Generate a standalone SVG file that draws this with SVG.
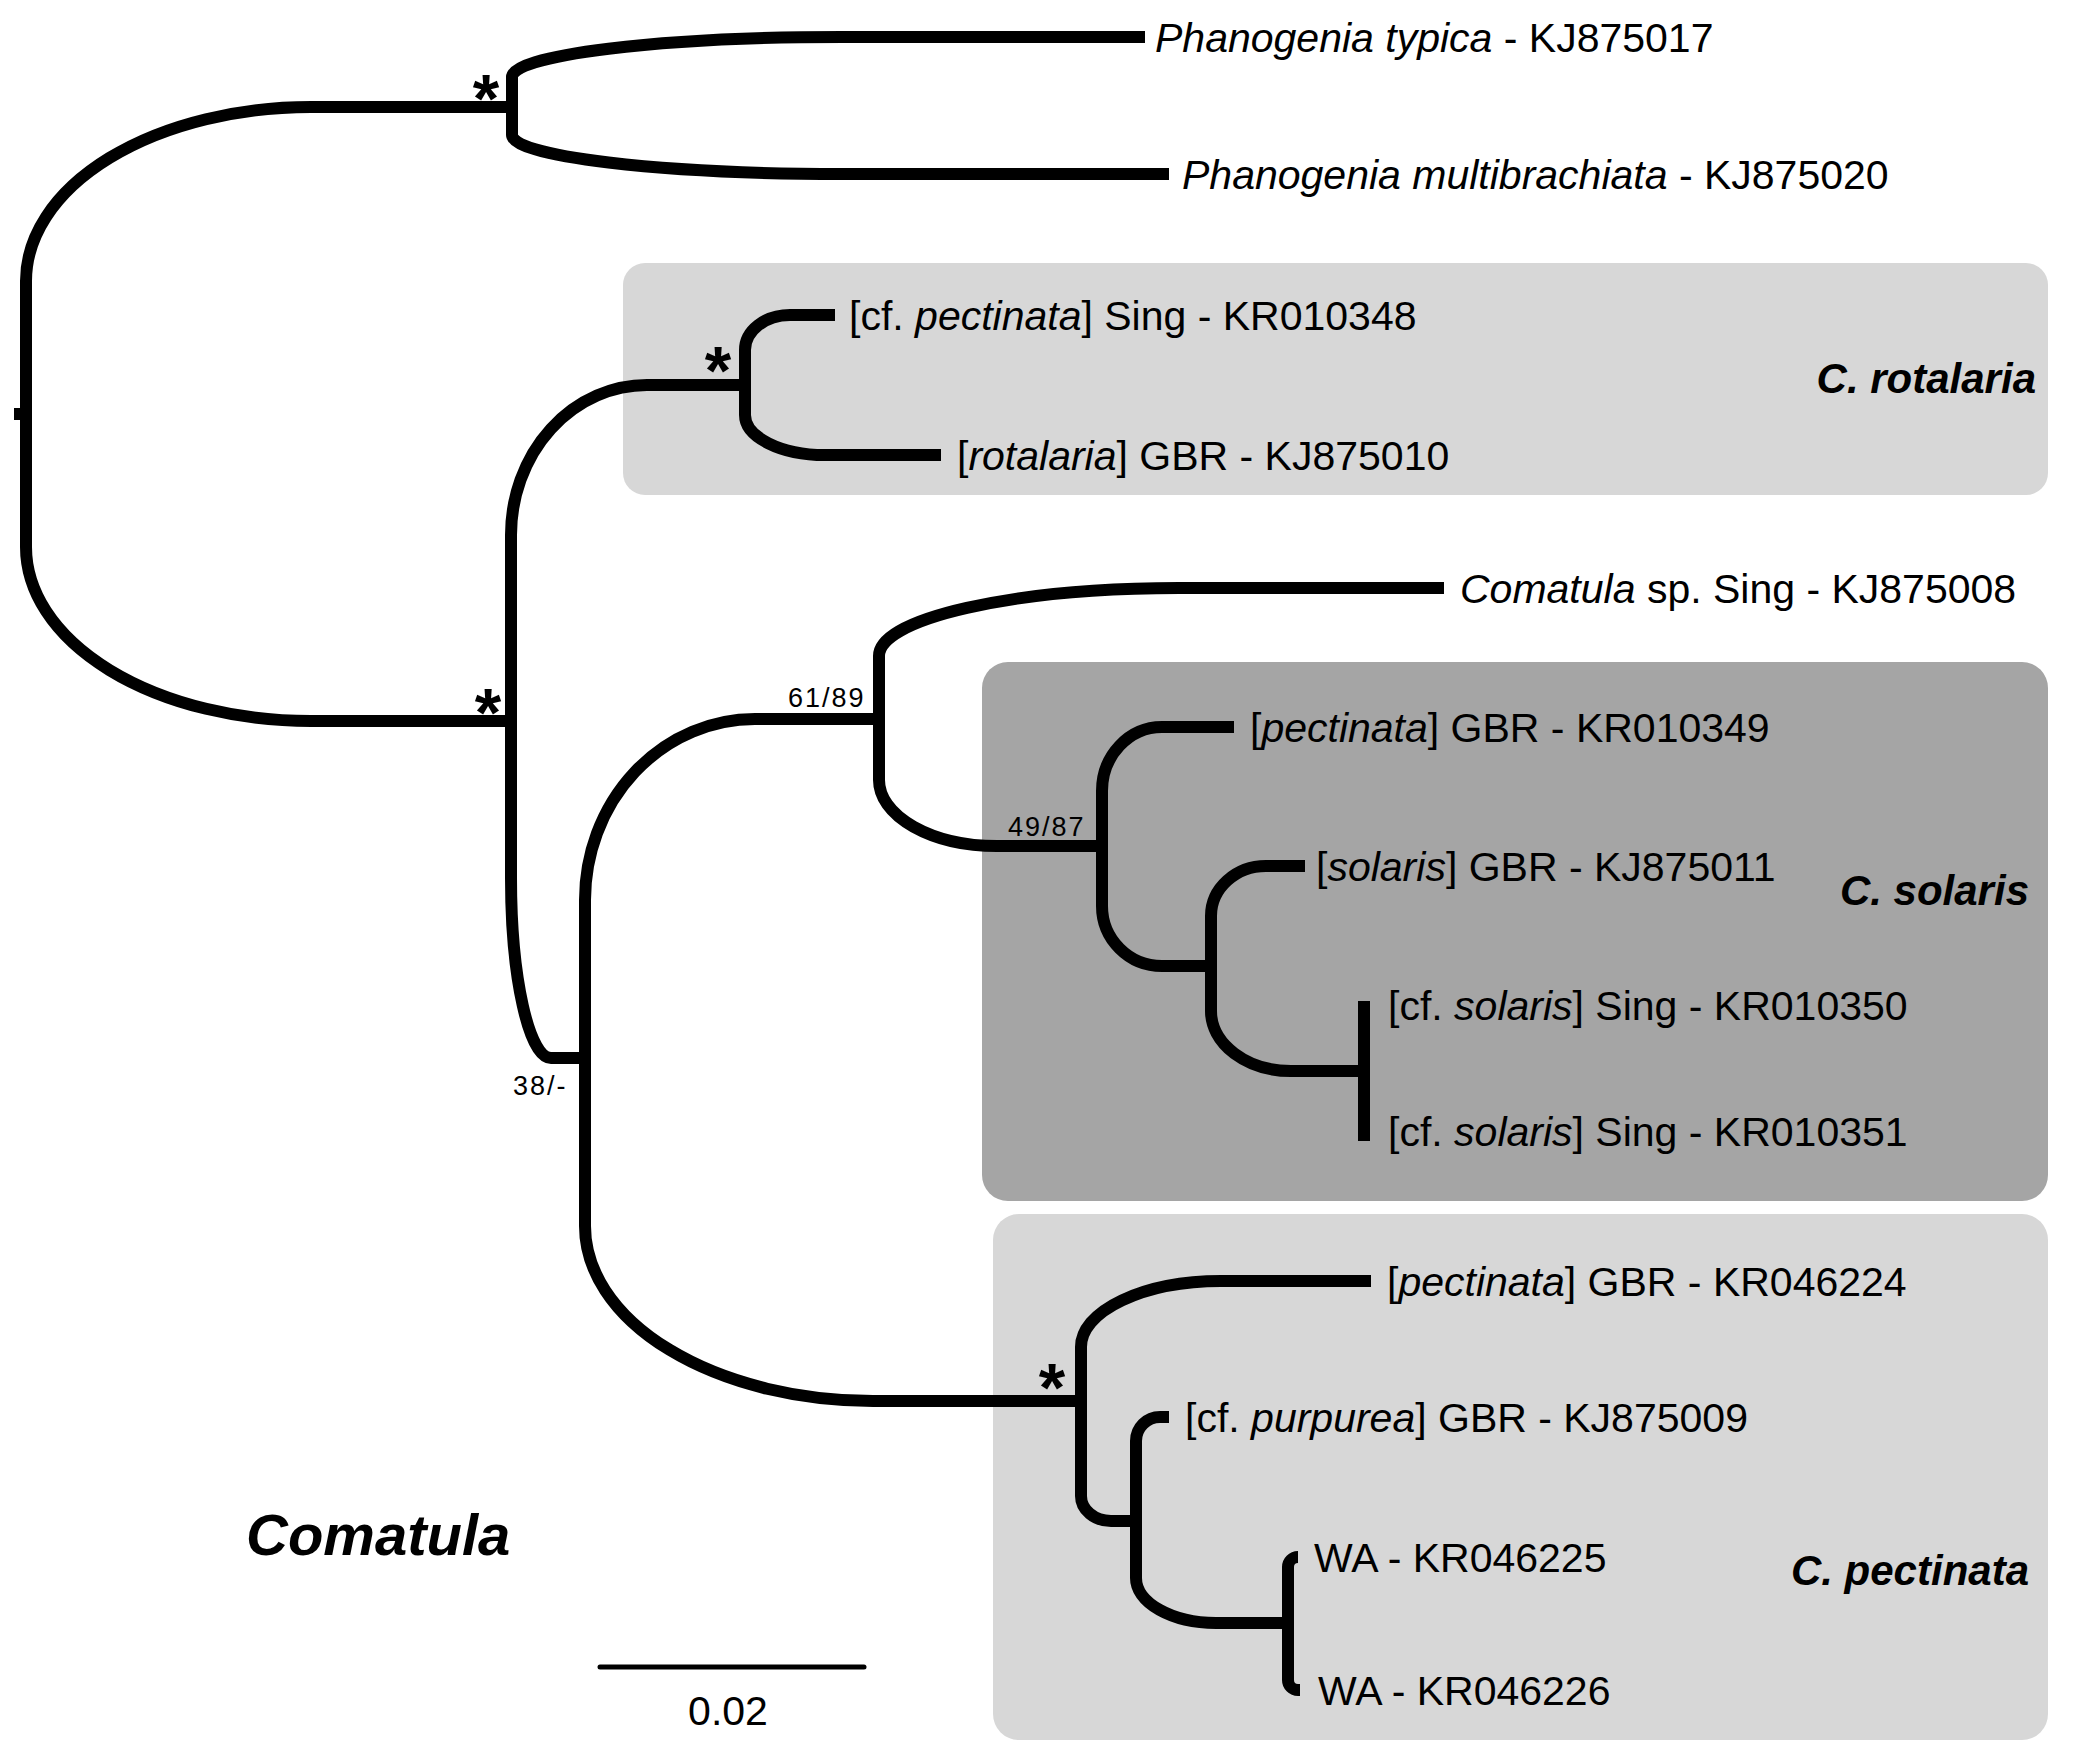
<svg xmlns="http://www.w3.org/2000/svg" width="2092" height="1750" viewBox="0 0 2092 1750">
<style>
.br{fill:none;stroke:#000;stroke-width:12;stroke-linecap:butt;stroke-linejoin:round}
.lab{font-family:"Liberation Sans",Arial,Helvetica,sans-serif;font-size:41px;fill:#000}
.it{font-style:italic}
.clade{font-family:"Liberation Sans",Arial,Helvetica,sans-serif;font-size:42px;font-weight:bold;font-style:italic;fill:#000;text-anchor:end}
.sup{font-family:"Liberation Sans",Arial,Helvetica,sans-serif;font-size:27px;letter-spacing:2px;fill:#000}
.star{font-family:"Liberation Sans",Arial,Helvetica,sans-serif;font-size:68px;font-weight:bold;fill:#000;text-anchor:middle}
.light{fill:#d7d7d7}
.dark{fill:#a5a5a5}
</style>
<rect width="2092" height="1750" fill="#fff"/>
<g id="clade-boxes">
<rect id="box-rotalaria" class="light" x="623" y="263" width="1425" height="232" rx="22"/>
<rect id="box-solaris" class="dark" x="982" y="662" width="1066" height="539" rx="26"/>
<rect id="box-pectinata" class="light" x="993" y="1214" width="1055" height="526" rx="26"/>
</g>
<g id="connectors">
<path class="br" d="M14 414 H26"/>
<path class="br" d="M26 414 V281 A285 174 0 0 1 311 107 H512"/>
<path class="br" d="M26 414 V547 A285 174 0 0 0 311 721 H511"/>
<path class="br" d="M512 107 V77 A330 40 0 0 1 842 37 H1145"/>
<path class="br" d="M512 107 V135 A330 39 0 0 0 842 174 H1169"/>
<path class="br" d="M511 721 V535 A136 150 0 0 1 647 385 H745"/>
<path class="br" d="M511 721 V878 A40 180 0 0 0 551 1058 H585"/>
<path class="br" d="M745 385 V350 A45 35 0 0 1 790 315 H835"/>
<path class="br" d="M745 385 V415 A80 40 0 0 0 825 455 H941"/>
<path class="br" d="M585 1058 V900 A170 181 0 0 1 755 719 H879"/>
<path class="br" d="M585 1058 V1226 A288 175 0 0 0 873 1401 H1081"/>
<path class="br" d="M879 719 V656 A300 68 0 0 1 1179 588 H1444"/>
<path class="br" d="M879 719 V780 A118 66 0 0 0 997 846 H1102"/>
<path class="br" d="M1102 846 V791 A60 64 0 0 1 1162 727 H1234"/>
<path class="br" d="M1102 846 V906 A60 60 0 0 0 1162 966 H1211"/>
<path class="br" d="M1211 966 V916 A55 50 0 0 1 1266 866 H1305"/>
<path class="br" d="M1211 966 V1011 A80 60 0 0 0 1291 1071 H1364"/>
<path class="br" d="M1364 1001 V1141"/>
<path class="br" d="M1081 1401 V1347 A140 66 0 0 1 1221 1281 H1371"/>
<path class="br" d="M1081 1401 V1496 A30 25 0 0 0 1111 1521 H1136"/>
<path class="br" d="M1136 1521 V1441 A24 24 0 0 1 1160 1417 H1169"/>
<path class="br" d="M1136 1521 V1578 A80 45 0 0 0 1216 1623 H1288"/>
<path class="br" d="M1288 1623 V1567 A10 10 0 0 1 1298 1557"/>
<path class="br" d="M1288 1623 V1680 A10 10 0 0 0 1298 1690 H1300"/>
</g>
<g id="support">
<text class="star" x="486" y="122">*</text>
<text class="star" x="488" y="736">*</text>
<text class="star" x="718" y="394">*</text>
<text class="star" x="1052" y="1411">*</text>
<text class="sup" x="788" y="707">61/89</text>
<text class="sup" x="1008" y="836">49/87</text>
<text class="sup" x="513" y="1095">38/-</text>
</g>
<g id="tip-labels">
<g id="t1"><text class="lab" x="1155" y="52"><tspan class="it">Phanogenia typica</tspan> - KJ875017</text></g>
<g id="t2"><text class="lab" x="1182" y="189"><tspan class="it">Phanogenia multibrachiata</tspan> - KJ875020</text></g>
<g id="t3"><text class="lab" x="849" y="330">[cf. <tspan class="it">pectinata</tspan>] Sing - KR010348</text></g>
<g id="t4"><text class="lab" x="957" y="470">[<tspan class="it">rotalaria</tspan>] GBR - KJ875010</text></g>
<g id="t5"><text class="lab" x="1460" y="603"><tspan class="it">Comatula</tspan> sp. Sing - KJ875008</text></g>
<g id="t6"><text class="lab" x="1250" y="742">[<tspan class="it">pectinata</tspan>] GBR - KR010349</text></g>
<g id="t7"><text class="lab" x="1316" y="881">[<tspan class="it">solaris</tspan>] GBR - KJ875011</text></g>
<g id="t8"><text class="lab" x="1388" y="1020">[cf. <tspan class="it">solaris</tspan>] Sing - KR010350</text></g>
<g id="t9"><text class="lab" x="1388" y="1146">[cf. <tspan class="it">solaris</tspan>] Sing - KR010351</text></g>
<g id="t10"><text class="lab" x="1387" y="1296">[<tspan class="it">pectinata</tspan>] GBR - KR046224</text></g>
<g id="t11"><text class="lab" x="1185" y="1432">[cf. <tspan class="it">purpurea</tspan>] GBR - KJ875009</text></g>
<g id="t12"><text class="lab" x="1314" y="1572">WA - KR046225</text></g>
<g id="t13"><text class="lab" x="1318" y="1705">WA - KR046226</text></g>
</g>
<g id="clade-labels">
<text class="clade" x="2036" y="393">C. rotalaria</text>
<text class="clade" x="2029" y="905">C. solaris</text>
<text class="clade" x="2029" y="1585">C. pectinata</text>
<text id="genus" x="246" y="1555" style="font-family:'Liberation Sans',Arial,Helvetica,sans-serif;font-size:58px;font-weight:bold;font-style:italic">Comatula</text>
</g>
<g id="scale-bar">
<line x1="600" y1="1667" x2="864" y2="1667" stroke="#000" stroke-width="5" stroke-linecap="round"/>
<text x="728" y="1725" text-anchor="middle" style="font-family:'Liberation Sans',Arial,Helvetica,sans-serif;font-size:41px">0.02</text>
</g>
</svg>
